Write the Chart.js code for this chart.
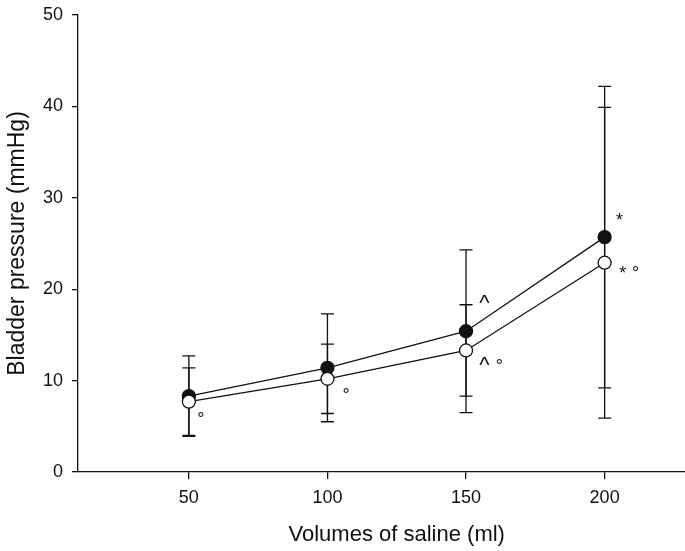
<!DOCTYPE html>
<html>
<head>
<meta charset="utf-8">
<script src="https://cdn.jsdelivr.net/npm/chart.js@4.4.1/dist/chart.umd.min.js"></script>
<style>
html, body { margin: 0; padding: 0; background: #fff; }
</style>
</head>
<body>
<canvas id="chart" width="685" height="551"></canvas>
<script>
// values (mean and error, mmHg)
const volumes = [50, 100, 150, 200];
const filledMean = [8.3, 11.4, 15.4, 25.7];
const filledErr = [4.4, 5.9, 8.9, 16.5];
const openMean = [7.7, 10.2, 13.3, 22.9];
const openErr = [3.7, 3.8, 5.0, 17.0];

// significance marks, placed in data units
const sigText = ['°', '°', '^', '^', '°', '*', '*', '°'];
const sigX = [54.3, 106.7, 156.6, 156.6, 162.0, 205.4, 206.5, 211.2];
const sigY = [6.3, 8.9, 18.9, 12.1, 12.1, 27.9, 22.2, 22.3];

const xLabel = 'Volumes of saline (ml)';
const yLabel = 'Bladder pressure (mmHg)';
const FONT = '"Liberation Sans", Arial, sans-serif';
const INK = '#111';

const errorBars = {
    id: 'errorBars',
    beforeDatasetsDraw(chart) {
        const ctx = chart.ctx;
        const x = chart.scales.x, y = chart.scales.y;
        ctx.save();
        ctx.strokeStyle = INK;
        ctx.lineWidth = 1.3;
        chart.data.datasets.forEach(ds => {
            ds.data.forEach((p, i) => {
                const px = x.getPixelForValue(p.x);
                const top = y.getPixelForValue(p.y + ds.errors[i]);
                const bot = y.getPixelForValue(p.y - ds.errors[i]);
                ctx.beginPath();
                ctx.moveTo(px, top); ctx.lineTo(px, bot);
                ctx.moveTo(px - 6.5, top); ctx.lineTo(px + 6.5, top);
                ctx.moveTo(px - 6.5, bot); ctx.lineTo(px + 6.5, bot);
                ctx.stroke();
            });
        });
        ctx.restore();
    }
};

const marks = {
    id: 'marks',
    afterDraw(chart) {
        const ctx = chart.ctx;
        const x = chart.scales.x, y = chart.scales.y;
        ctx.save();
        ctx.fillStyle = INK;
        ctx.textAlign = 'center';
        ctx.textBaseline = 'alphabetic';
        sigText.forEach((t, i) => {
            ctx.font = (t === '^' ? '22px ' : '18px ') + FONT;
            const m = ctx.measureText(t);
            const cx = x.getPixelForValue(sigX[i]);
            const cy = y.getPixelForValue(sigY[i]);
            // center the glyph's ink on the point
            ctx.fillText(t, cx, cy + (m.actualBoundingBoxAscent - m.actualBoundingBoxDescent) / 2);
        });
        // x axis title, centred under the tick range
        const mid = (x.getPixelForValue(volumes[0]) + x.getPixelForValue(volumes[volumes.length - 1])) / 2;
        ctx.font = '22px ' + FONT;
        ctx.textBaseline = 'middle';
        ctx.fillText(xLabel, mid, x.bottom - 16);
        ctx.restore();
    }
};

new Chart(document.getElementById('chart'), {
    type: 'line',
    data: {
        datasets: [{
            label: 'open',
            data: volumes.map((v, i) => ({x: v, y: openMean[i]})),
            errors: openErr,
            borderColor: INK,
            borderWidth: 1.3,
            pointRadius: 6.5,
            pointBackgroundColor: '#fff',
            pointBorderColor: INK,
            pointBorderWidth: 1.3,
            order: 0
        }, {
            label: 'filled',
            data: volumes.map((v, i) => ({x: v, y: filledMean[i]})),
            errors: filledErr,
            borderColor: INK,
            borderWidth: 1.3,
            pointRadius: 6.5,
            pointBackgroundColor: INK,
            pointBorderColor: INK,
            pointBorderWidth: 1.3,
            order: 1
        }]
    },
    options: {
        responsive: false,
        animation: false,
        devicePixelRatio: 1,
        layout: { autoPadding: false, padding: { top: 15, right: 0, left: 0, bottom: 0 } },
        plugins: { legend: { display: false }, tooltip: { enabled: false } },
        scales: {
            x: {
                type: 'linear',
                min: 10,
                max: 229,
                afterBuildTicks: s => { s.ticks = volumes.map(v => ({value: v})); },
                afterFit: s => { s.height = 79; s.paddingLeft = 0; s.paddingRight = 0; },
                grid: { drawOnChartArea: false, color: INK, lineWidth: 1.3, tickLength: 7 },
                border: { color: INK, width: 1.3 },
                ticks: { color: INK, font: { family: FONT, size: 18 }, padding: 8, maxRotation: 0 }
            },
            y: {
                min: 0,
                max: 50,
                ticks: { stepSize: 10, color: INK, font: { family: FONT, size: 18 }, padding: 9 },
                afterFit: s => { s.width = 78; s.paddingTop = 0; s.paddingBottom = 0; },
                grid: { drawOnChartArea: false, color: INK, lineWidth: 1.3, tickLength: 6 },
                border: { color: INK, width: 1.3 },
                title: { display: true, text: yLabel, color: INK, font: { family: FONT, size: 23 }, padding: { top: 4, bottom: 0 } }
            }
        }
    },
    plugins: [errorBars, marks]
});
</script>
</body>
</html>
